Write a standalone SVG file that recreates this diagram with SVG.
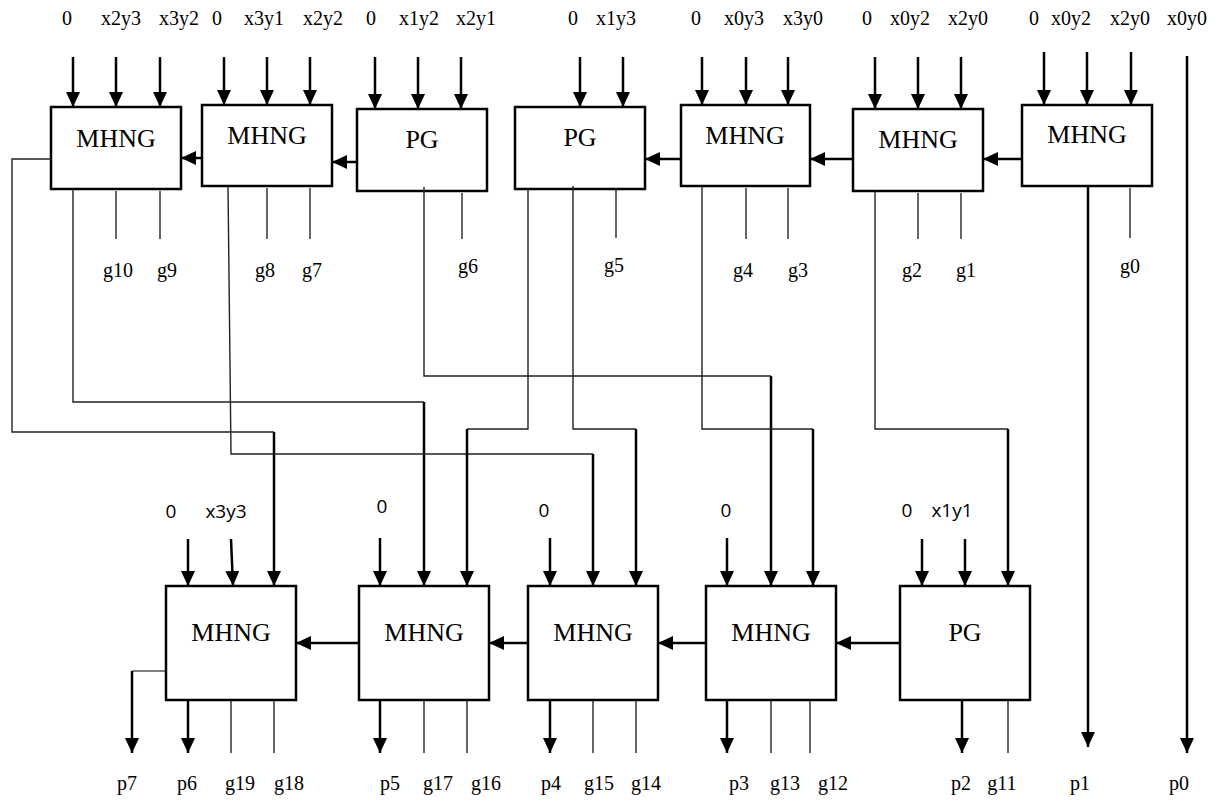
<svg xmlns="http://www.w3.org/2000/svg" width="1218" height="802" viewBox="0 0 1218 802">
<defs>
<marker id="ah" viewBox="0 0 15 14" markerWidth="15" markerHeight="14" refX="15" refY="7" orient="auto" markerUnits="userSpaceOnUse">
<path d="M0,0 L15,7 L0,14 z" fill="#000"/>
</marker>
</defs>
<style>
.box{fill:#fff;stroke:#000;stroke-width:2.5}
.t{font-family:"Liberation Serif","Times New Roman",serif;font-size:20px;text-anchor:middle;fill:#000}
.nm{font-family:"Liberation Serif","Times New Roman",serif;font-size:26px;text-anchor:middle;fill:#000}
.s{font-family:"Open Sans","Liberation Sans",sans-serif;font-size:19px;text-anchor:middle;fill:#000}
.arr{stroke:#000;stroke-width:2.5;fill:none;marker-end:url(#ah)}
.out{stroke:#000;stroke-width:1.2;fill:none}
.wire{stroke:#222;stroke-width:1.4;fill:none}
</style>
<rect width="1218" height="802" fill="#fff"/>

<g id="labels-top">
<text class="t" x="67" y="25">0</text>
<text class="t" x="121" y="25">x2y3</text>
<text class="t" x="179" y="25">x3y2</text>
<text class="t" x="217" y="25">0</text>
<text class="t" x="264" y="25">x3y1</text>
<text class="t" x="323" y="25">x2y2</text>
<text class="t" x="371" y="25">0</text>
<text class="t" x="419" y="25">x1y2</text>
<text class="t" x="476" y="25">x2y1</text>
<text class="t" x="573" y="25">0</text>
<text class="t" x="616" y="25">x1y3</text>
<text class="t" x="696" y="25">0</text>
<text class="t" x="744" y="25">x0y3</text>
<text class="t" x="803" y="25">x3y0</text>
<text class="t" x="867" y="25">0</text>
<text class="t" x="910" y="25">x0y2</text>
<text class="t" x="968" y="25">x2y0</text>
<text class="t" x="1034" y="25">0</text>
<text class="t" x="1071" y="25">x0y2</text>
<text class="t" x="1130" y="25">x2y0</text>
<text class="t" x="1187" y="25">x0y0</text>
</g>

<g id="nodeA"><rect class="box" x="51" y="107" width="130" height="82"/><text class="nm" x="116" y="147">MHNG</text></g>
<g id="nodeB"><rect class="box" x="202" y="105" width="130" height="81"/><text class="nm" x="267" y="144">MHNG</text></g>
<g id="nodeC"><rect class="box" x="357" y="109" width="130" height="82"/><text class="nm" x="422" y="148">PG</text></g>
<g id="nodeD"><rect class="box" x="515" y="107" width="130" height="82"/><text class="nm" x="580" y="146">PG</text></g>
<g id="nodeE"><rect class="box" x="681" y="105" width="129" height="81"/><text class="nm" x="745" y="144">MHNG</text></g>
<g id="nodeF"><rect class="box" x="853" y="109" width="130" height="82"/><text class="nm" x="918" y="148">MHNG</text></g>
<g id="nodeG"><rect class="box" x="1022" y="105" width="130" height="81"/><text class="nm" x="1087" y="143">MHNG</text></g>

<g id="node1"><rect class="box" x="166" y="586" width="130" height="114"/><text class="nm" x="231" y="641">MHNG</text></g>
<g id="node2"><rect class="box" x="359" y="586" width="130" height="114"/><text class="nm" x="424" y="641">MHNG</text></g>
<g id="node3"><rect class="box" x="528" y="586" width="130" height="114"/><text class="nm" x="593" y="641">MHNG</text></g>
<g id="node4"><rect class="box" x="706" y="586" width="130" height="114"/><text class="nm" x="771" y="641">MHNG</text></g>
<g id="node5"><rect class="box" x="900" y="586" width="130" height="114"/><text class="nm" x="965" y="641">PG</text></g>

<g id="connectors">
<!-- top inputs -->
<path class="arr" d="M73,57V107"/><path class="arr" d="M116,57V107"/><path class="arr" d="M160,57V107"/>
<path class="arr" d="M224,57V105"/><path class="arr" d="M267,57V105"/><path class="arr" d="M310,57V105"/>
<path class="arr" d="M375,57V109"/><path class="arr" d="M418,57V109"/><path class="arr" d="M461,57V109"/>
<path class="arr" d="M580,57V107"/><path class="arr" d="M623,57V107"/>
<path class="arr" d="M702,57V105"/><path class="arr" d="M746,57V105"/><path class="arr" d="M788,57V105"/>
<path class="arr" d="M875,57V109"/><path class="arr" d="M918,57V109"/><path class="arr" d="M961,57V109"/>
<path class="arr" d="M1044,52V105"/><path class="arr" d="M1087,52V105"/><path class="arr" d="M1131,52V105"/>
<!-- top carries -->
<path class="arr" d="M202,158H181"/>
<path class="arr" d="M357,162H332"/>
<path class="arr" d="M681,159H645"/>
<path class="arr" d="M853,159H810"/>
<path class="arr" d="M1022,159H983"/>
<!-- top g outputs -->
<path class="out" d="M116,191V239M160,191V239M267,188V239M310,188V239M462,193V239M616,190V238M746,188V239M788,188V239M918,193V239M961,193V239M1130,188V238"/>
<!-- routing wires -->
<path class="wire" d="M51,159H12V432H274"/>
<path class="arr" d="M274,432V586"/>
<path class="wire" d="M73,189V402H424"/>
<path class="arr" d="M424,402V586"/>
<path class="wire" d="M228,186L231,454H593"/>
<path class="arr" d="M593,454V586"/>
<path class="wire" d="M424,187V376H771"/>
<path class="arr" d="M771,376V586"/>
<path class="wire" d="M528,189V429H467"/>
<path class="arr" d="M467,429V586"/>
<path class="wire" d="M573,186V429H636"/>
<path class="arr" d="M636,429V586"/>
<path class="wire" d="M702,186V429H813"/>
<path class="arr" d="M813,429V586"/>
<path class="wire" d="M875,191V429H1008"/>
<path class="arr" d="M1008,429V586"/>
<path class="arr" d="M1088,186V747"/>
<path class="arr" d="M1187,56V753"/>
<!-- bottom inputs -->
<path class="arr" d="M188,539V586"/><path class="arr" d="M231,539L233,586"/>
<path class="arr" d="M380,538V586"/>
<path class="arr" d="M550,538V586"/>
<path class="arr" d="M727,538V586"/>
<path class="arr" d="M922,539V586"/><path class="arr" d="M965,539V586"/>
<!-- bottom carries -->
<path class="arr" d="M359,643H296"/>
<path class="arr" d="M528,643H489"/>
<path class="arr" d="M706,643H658"/>
<path class="arr" d="M900,643H836"/>
<!-- bottom outputs -->
<path class="out" d="M166,671H132"/>
<path class="arr" d="M132,671V753"/>
<path class="arr" d="M188,700V753"/>
<path class="arr" d="M380,700V753"/>
<path class="arr" d="M550,700V753"/>
<path class="arr" d="M727,700V753"/>
<path class="arr" d="M962,700V753"/>
<path class="out" d="M231,700V753M274,700V753M424,700V753M467,700V753M593,700V753M636,700V753M771,700V753M810,700V753M1008,700V753"/>
</g>

<g id="labels-g">
<text class="t" x="118" y="277">g10</text>
<text class="t" x="167" y="277">g9</text>
<text class="t" x="265" y="277">g8</text>
<text class="t" x="312" y="277">g7</text>
<text class="t" x="468" y="273">g6</text>
<text class="t" x="614" y="272">g5</text>
<text class="t" x="743" y="277">g4</text>
<text class="t" x="798" y="277">g3</text>
<text class="t" x="912" y="277">g2</text>
<text class="t" x="966" y="277">g1</text>
<text class="t" x="1130" y="273">g0</text>
</g>

<g id="labels-mid">
<text class="s" x="171" y="518">0</text>
<text class="s" x="226" y="518">x3y3</text>
<text class="s" x="382" y="513">0</text>
<text class="s" x="544" y="517">0</text>
<text class="s" x="726" y="517">0</text>
<text class="s" x="907" y="517">0</text>
<text class="s" x="952" y="517">x1y1</text>
</g>

<g id="labels-bottom">
<text class="t" x="127" y="790">p7</text>
<text class="t" x="187" y="790">p6</text>
<text class="t" x="240" y="790">g19</text>
<text class="t" x="289" y="790">g18</text>
<text class="t" x="390" y="790">p5</text>
<text class="t" x="438" y="790">g17</text>
<text class="t" x="486" y="790">g16</text>
<text class="t" x="551" y="790">p4</text>
<text class="t" x="599" y="790">g15</text>
<text class="t" x="646" y="790">g14</text>
<text class="t" x="739" y="790">p3</text>
<text class="t" x="785" y="790">g13</text>
<text class="t" x="833" y="790">g12</text>
<text class="t" x="961" y="790">p2</text>
<text class="t" x="1002" y="790">g11</text>
<text class="t" x="1080" y="790">p1</text>
<text class="t" x="1179" y="790">p0</text>
</g>
</svg>
